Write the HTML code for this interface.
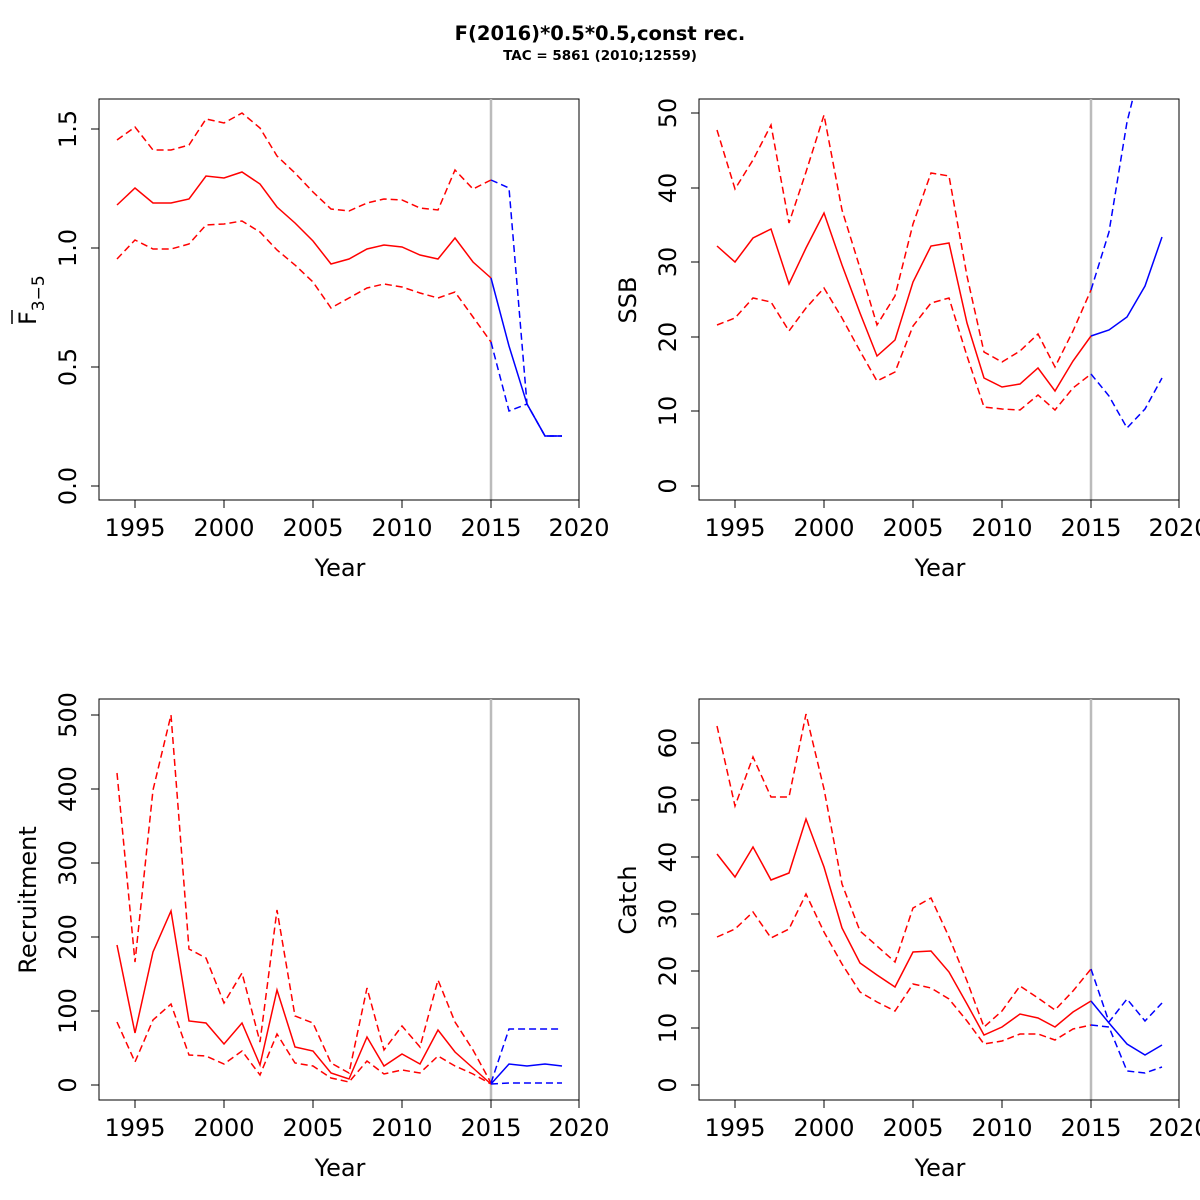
<!DOCTYPE html>
<html><head><meta charset="utf-8"><style>html,body{margin:0;padding:0;background:#fff}svg{display:block}text{font-family:"DejaVu Sans","Liberation Sans",sans-serif;fill:#000}</style></head>
<body>
<svg width="1200" height="1200" viewBox="0 0 1200 1200" xmlns="http://www.w3.org/2000/svg">
<defs>
<clipPath id="c1"><rect x="99" y="99" width="480" height="401"/></clipPath>
<clipPath id="c2"><rect x="699" y="99" width="480" height="401"/></clipPath>
<clipPath id="c3"><rect x="99" y="699" width="480" height="401"/></clipPath>
<clipPath id="c4"><rect x="699" y="699" width="480" height="401"/></clipPath>
</defs>
<text x="600" y="40" font-size="19.5" font-weight="bold" text-anchor="middle">F(2016)*0.5*0.5,const rec.</text>
<text x="600" y="60" font-size="13.5" font-weight="bold" text-anchor="middle">TAC = 5861 (2010;12559)</text>

<g fill="none" stroke-width="1.5">
<rect x="99" y="99" width="480" height="401" stroke="#000" stroke-width="1"/>
<line x1="491" y1="99" x2="491" y2="500" stroke="#bbb" stroke-width="2.5"/>
<g clip-path="url(#c1)">
<polyline stroke="red" points="117,205 135,188 153,203 171,203 189,199 206,176 224,178 242,172 260,184 277,207 295,223 313,241 331,264 349,259 367,249 384,245 402,247 420,255 438,259 455,238 473,262 491,278"/>
<polyline stroke="red" stroke-dasharray="7,4" points="117,140 135,127 153,150 171,150 189,145 206,119 224,123 242,113 260,128 277,156 295,173 313,192 331,209 349,211 367,203 384,199 402,200 420,208 438,210 455,170 473,189 491,180"/>
<polyline stroke="red" stroke-dasharray="7,4" points="117,259 135,240 153,249 171,249 189,244 206,225 224,224 242,221 260,232 277,250 295,265 313,282 331,308 349,298 367,288 384,284 402,287 420,293 438,298 455,292 473,317 491,342"/>
<polyline stroke="blue" points="491,278 509,346 527,404 545,436 562,436"/>
<polyline stroke="blue" stroke-dasharray="7,4" points="491,180 509,188 527,404 545,436 562,436"/>
<polyline stroke="blue" stroke-dasharray="7,4" points="491,342 509,411 527,404 545,436 562,436"/>
</g>
<rect x="699" y="99" width="480" height="401" stroke="#000" stroke-width="1"/>
<line x1="1091" y1="99" x2="1091" y2="500" stroke="#bbb" stroke-width="2.5"/>
<g clip-path="url(#c2)">
<polyline stroke="red" points="717,246 735,262 753,238 771,229 789,284 806,248 824,213 842,265 860,313 877,356 895,340 913,282 931,246 949,243 967,323 984,378 1002,387 1020,384 1038,368 1055,391 1073,361 1091,336"/>
<polyline stroke="red" stroke-dasharray="7,4" points="717,130 735,189 753,160 771,125 789,223 806,172 824,115 842,210 860,268 877,325 895,296 913,224 931,173 949,176 967,276 984,352 1002,362 1020,351 1038,334 1055,367 1073,331 1091,290"/>
<polyline stroke="red" stroke-dasharray="7,4" points="717,325 735,318 753,298 771,302 789,331 806,308 824,288 842,318 860,351 877,381 895,372 913,326 931,303 949,298 967,356 984,407 1002,409 1020,410 1038,395 1055,410 1073,388 1091,374"/>
<polyline stroke="blue" points="1091,336 1109,330 1127,317 1145,286 1162,237"/>
<polyline stroke="blue" stroke-dasharray="7,4" points="1091,290 1109,232 1127,122 1135,90"/>
<polyline stroke="blue" stroke-dasharray="7,4" points="1091,374 1109,396 1127,428 1145,409 1162,378"/>
</g>
<rect x="99" y="699" width="480" height="401" stroke="#000" stroke-width="1"/>
<line x1="491" y1="699" x2="491" y2="1100" stroke="#bbb" stroke-width="2.5"/>
<g clip-path="url(#c3)">
<polyline stroke="red" points="117,945 135,1033 153,952 171,911 189,1021 206,1023 224,1044 242,1023 260,1065 277,990 295,1047 313,1051 331,1073 349,1079 367,1037 384,1066 402,1054 420,1064 438,1030 455,1052 473,1068 491,1084"/>
<polyline stroke="red" stroke-dasharray="7,4" points="117,773 135,962 153,790 171,715 189,949 206,958 224,1003 242,973 260,1042 277,910 295,1016 313,1023 331,1063 349,1073 367,988 384,1050 402,1026 420,1047 438,980 455,1022 473,1050 491,1083"/>
<polyline stroke="red" stroke-dasharray="7,4" points="117,1022 135,1062 153,1020 171,1004 189,1055 206,1056 224,1064 242,1051 260,1075 277,1034 295,1063 313,1066 331,1078 349,1082 367,1061 384,1074 402,1070 420,1073 438,1056 455,1066 473,1074 491,1084"/>
<polyline stroke="blue" points="491,1084 509,1064 527,1066 545,1064 562,1066"/>
<polyline stroke="blue" stroke-dasharray="7,4" points="491,1083 509,1029 527,1029 545,1029 562,1029"/>
<polyline stroke="blue" stroke-dasharray="7,4" points="491,1084 509,1083 527,1083 545,1083 562,1083"/>
</g>
<rect x="699" y="699" width="480" height="401" stroke="#000" stroke-width="1"/>
<line x1="1091" y1="699" x2="1091" y2="1100" stroke="#bbb" stroke-width="2.5"/>
<g clip-path="url(#c4)">
<polyline stroke="red" points="717,854 735,877 753,847 771,880 789,873 806,819 824,867 842,928 860,963 877,975 895,987 913,952 931,951 949,972 967,1004 984,1035 1002,1027 1020,1014 1038,1018 1055,1027 1073,1012 1091,1001"/>
<polyline stroke="red" stroke-dasharray="7,4" points="717,726 735,806 753,757 771,797 789,797 806,714 824,789 842,884 860,931 877,946 895,962 913,908 931,898 949,937 967,981 984,1027 1002,1011 1020,986 1038,998 1055,1010 1073,991 1091,969"/>
<polyline stroke="red" stroke-dasharray="7,4" points="717,937 735,929 753,912 771,938 789,929 806,894 824,932 842,964 860,992 877,1002 895,1011 913,984 931,988 949,999 967,1021 984,1044 1002,1041 1020,1034 1038,1034 1055,1040 1073,1029 1091,1025"/>
<polyline stroke="blue" points="1091,1001 1109,1023 1127,1044 1145,1055 1162,1045"/>
<polyline stroke="blue" stroke-dasharray="7,4" points="1091,969 1109,1022 1127,999 1145,1021 1162,1003"/>
<polyline stroke="blue" stroke-dasharray="7,4" points="1091,1025 1109,1027 1127,1071 1145,1073 1162,1067"/>
</g>
</g>

<g stroke="#000" stroke-width="1" fill="none">
<path d="M135,500v8M224,500v8M313,500v8M402,500v8M491,500v8M579,500v8M135,500H579"/>
<path d="M735,500v8M824,500v8M913,500v8M1002,500v8M1091,500v8M1179,500v8M735,500H1179"/>
<path d="M135,1100v8M224,1100v8M313,1100v8M402,1100v8M491,1100v8M579,1100v8M135,1100H579"/>
<path d="M735,1100v8M824,1100v8M913,1100v8M1002,1100v8M1091,1100v8M1179,1100v8M735,1100H1179"/>
<path d="M99,486h-8M99,367h-8M99,248h-8M99,129h-8M99,129V486"/>
<path d="M699,486h-8M699,411h-8M699,337h-8M699,262h-8M699,188h-8M699,113h-8M699,113V486"/>
<path d="M99,1085h-8M99,1011h-8M99,937h-8M99,863h-8M99,789h-8M99,715h-8M99,715V1085"/>
<path d="M699,1085h-8M699,1028h-8M699,971h-8M699,914h-8M699,857h-8M699,800h-8M699,743h-8M699,743V1085"/>
</g>

<g font-size="24" text-anchor="middle">
<text x="135" y="536">1995</text><text x="224" y="536">2000</text><text x="313" y="536">2005</text><text x="402" y="536">2010</text><text x="491" y="536">2015</text><text x="579" y="536">2020</text>
<text x="735" y="536">1995</text><text x="824" y="536">2000</text><text x="913" y="536">2005</text><text x="1002" y="536">2010</text><text x="1091" y="536">2015</text><text x="1179" y="536">2020</text>
<text x="135" y="1136">1995</text><text x="224" y="1136">2000</text><text x="313" y="1136">2005</text><text x="402" y="1136">2010</text><text x="491" y="1136">2015</text><text x="579" y="1136">2020</text>
<text x="735" y="1136">1995</text><text x="824" y="1136">2000</text><text x="913" y="1136">2005</text><text x="1002" y="1136">2010</text><text x="1091" y="1136">2015</text><text x="1179" y="1136">2020</text>
<text x="340" y="576">Year</text><text x="940" y="576">Year</text><text x="340" y="1176">Year</text><text x="940" y="1176">Year</text>
</g>
<g font-size="24" text-anchor="middle">
<text transform="translate(76,486) rotate(-90)">0.0</text>
<text transform="translate(76,367) rotate(-90)">0.5</text>
<text transform="translate(76,248) rotate(-90)">1.0</text>
<text transform="translate(76,129) rotate(-90)">1.5</text>
<text transform="translate(676,486) rotate(-90)">0</text>
<text transform="translate(676,411) rotate(-90)">10</text>
<text transform="translate(676,337) rotate(-90)">20</text>
<text transform="translate(676,262) rotate(-90)">30</text>
<text transform="translate(676,188) rotate(-90)">40</text>
<text transform="translate(676,113) rotate(-90)">50</text>
<text transform="translate(76,1085) rotate(-90)">0</text>
<text transform="translate(76,1011) rotate(-90)">100</text>
<text transform="translate(76,937) rotate(-90)">200</text>
<text transform="translate(76,863) rotate(-90)">300</text>
<text transform="translate(76,789) rotate(-90)">400</text>
<text transform="translate(76,715) rotate(-90)">500</text>
<text transform="translate(676,1085) rotate(-90)">0</text>
<text transform="translate(676,1028) rotate(-90)">10</text>
<text transform="translate(676,971) rotate(-90)">20</text>
<text transform="translate(676,914) rotate(-90)">30</text>
<text transform="translate(676,857) rotate(-90)">40</text>
<text transform="translate(676,800) rotate(-90)">50</text>
<text transform="translate(676,743) rotate(-90)">60</text>
<text transform="translate(636,300) rotate(-90)">SSB</text>
<text transform="translate(36,900) rotate(-90)">Recruitment</text>
<text transform="translate(636,900) rotate(-90)">Catch</text>
</g>
<text transform="translate(36,325) rotate(-90)" font-size="24" text-anchor="start">F<tspan font-size="17" dy="8">3−5</tspan></text>
<line x1="12" y1="310" x2="12" y2="324" stroke="#000" stroke-width="1.5"/>
</svg>
</body></html>
